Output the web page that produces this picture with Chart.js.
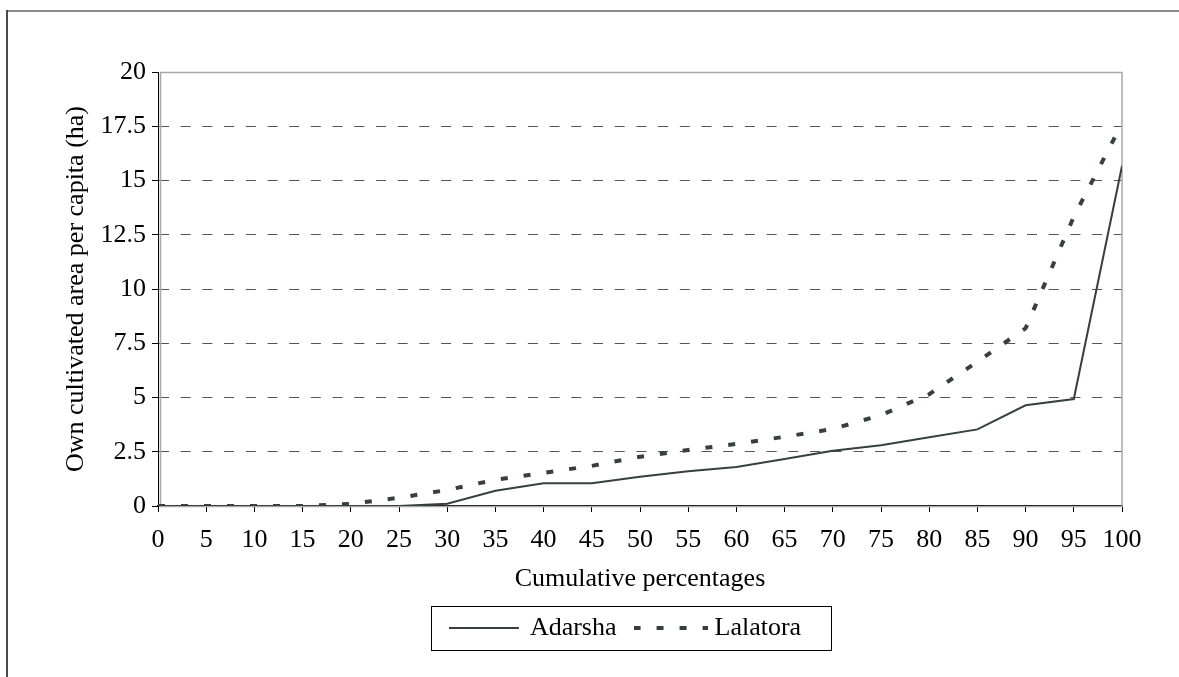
<!DOCTYPE html>
<html>
<head>
<meta charset="utf-8">
<title>Own cultivated area per capita</title>
<script src="https://cdn.jsdelivr.net/npm/chart.js@4.4.1/dist/chart.umd.min.js"></script>
<style>
  html, body { margin: 0; padding: 0; background: #fff; }
  #wrap { position: relative; width: 1179px; height: 677px; }
</style>
</head>
<body>
<div id="wrap"><canvas id="myChart" width="1179" height="677"></canvas></div>
<script>
// cumulative percentages (x) and per-capita area (ha)
var percentages = [0, 5, 10, 15, 20, 25, 30, 35, 40, 45, 50, 55, 60, 65, 70, 75, 80, 85, 90, 95, 100];
var adarsha  = [0, 0, 0, 0, 0, 0, 0.1, 0.7, 1.05, 1.05, 1.35, 1.6, 1.8, 2.17, 2.55, 2.8, 3.17, 3.53, 4.64, 4.93, 15.67];
var lalatora = [0, 0, 0, 0, 0.1, 0.38, 0.74, 1.21, 1.53, 1.85, 2.27, 2.58, 2.86, 3.19, 3.55, 4.19, 5.15, 6.65, 8.19, 13.33, 17.63];
var seriesNames = ['Adarsha', 'Lalatora'];

var FONT = '"Liberation Serif", "Times New Roman", serif';
var LINE_COLOR = '#364040';

function toPoints(values) {
  return percentages.map(function (p, i) { return { x: p, y: values[i] }; });
}

// small canvas with the line sample, used as legend point style
function legendSample(ds) {
  var cv = document.createElement('canvas');
  cv.width = 74;
  cv.height = 8;
  var c = cv.getContext('2d');
  c.strokeStyle = ds.borderColor;
  c.lineWidth = ds.borderWidth;
  c.setLineDash(ds.borderDash || []);
  c.beginPath();
  c.moveTo(0, 4);
  c.lineTo(ds.borderDash ? 74 : 70, 4);
  c.stroke();
  return cv;
}

// outer frame, plot border and the legend box
var framePlugin = {
  id: 'frame',
  afterLayout: function (chart) {
    // nudge legend a bit left, like the original
    chart.legend.left -= 12;
    chart.legend.right -= 12;
  },
  beforeDraw: function (chart) {
    var c = chart.ctx;
    c.save();
    c.fillStyle = '#fff';
    c.fillRect(0, 0, chart.width, chart.height);
    c.lineWidth = 2;
    c.strokeStyle = '#8c8c8c';
    c.beginPath(); c.moveTo(6, 11); c.lineTo(chart.width, 11); c.stroke();
    c.strokeStyle = '#4a4a4a';
    c.beginPath(); c.moveTo(7, 10); c.lineTo(7, chart.height); c.stroke();
    c.restore();
  },
  beforeDatasetsDraw: function (chart) {
    var a = chart.chartArea, c = chart.ctx;
    c.save();
    c.strokeStyle = '#a8a8a8';
    c.lineWidth = 1.5;
    c.strokeRect(a.left + 2.5, a.top + 0.5, a.right - a.left - 2.5, a.bottom - a.top);
    c.restore();
  },
  afterDraw: function (chart) {
    var hb = chart.legend.legendHitBoxes;
    if (!hb || !hb.length) return;
    var first = hb[0], last = hb[hb.length - 1];
    var c = chart.ctx;
    c.save();
    c.strokeStyle = '#000';
    c.lineWidth = 1;
    var l = Math.round(first.left - 24) + 0.5;
    var r = Math.round(last.left + last.width + 30) + 0.5;
    var t = Math.round(first.top - 9) + 0.5;
    c.strokeRect(l, t, r - l, 44);
    c.restore();
  }
};

var ctx = document.getElementById('myChart').getContext('2d');

var chart = new Chart(ctx, {
  type: 'line',
  data: {
    datasets: [{
      label: seriesNames[0],
      data: toPoints(adarsha),
      borderColor: LINE_COLOR,
      backgroundColor: LINE_COLOR,
      borderWidth: 2,
      pointRadius: 0,
      tension: 0,
      fill: false
    }, {
      label: seriesNames[1],
      data: toPoints(lalatora),
      borderColor: LINE_COLOR,
      backgroundColor: LINE_COLOR,
      borderWidth: 4,
      borderDash: [7, 16],
      pointRadius: 0,
      tension: 0,
      fill: false
    }]
  },
  options: {
    responsive: false,
    animation: false,
    devicePixelRatio: 1,
    layout: { padding: { left: 0, right: 57, top: 72, bottom: 26 } },
    plugins: {
      tooltip: { enabled: false },
      legend: {
        position: 'bottom',
        fullSize: false,
        labels: {
          color: '#000',
          font: { family: FONT, size: 26 },
          usePointStyle: true,
          pointStyleWidth: 62,
          padding: 23,
          generateLabels: function (chart) {
            return chart.data.datasets.map(function (ds, i) {
              return {
                text: ds.label,
                pointStyle: legendSample(ds),
                fillStyle: ds.borderColor,
                strokeStyle: ds.borderColor,
                lineWidth: ds.borderWidth,
                fontColor: '#000',
                hidden: false,
                datasetIndex: i
              };
            });
          }
        }
      }
    },
    scales: {
      x: {
        type: 'linear',
        min: 0,
        max: 100,
        afterFit: function (s) { s.height = 86; },
        ticks: {
          stepSize: 5,
          color: '#000',
          padding: 13,
          font: { family: FONT, size: 26 }
        },
        grid: {
          drawOnChartArea: false,
          drawTicks: true,
          tickLength: 6,
          tickColor: '#000',
          tickWidth: 1
        },
        border: { display: true, color: '#000', width: 1.5 },
        title: {
          display: true,
          text: 'Cumulative percentages',
          color: '#000',
          font: { family: FONT, size: 26, lineHeight: 1 },
          padding: { top: 0, bottom: 0 }
        }
      },
      y: {
        min: 0,
        max: 20,
        afterFit: function (s) { s.width = 158; },
        ticks: {
          stepSize: 2.5,
          color: '#000',
          padding: 6,
          font: { family: FONT, size: 26 }
        },
        grid: {
          color: function (c) {
            var v = c.tick ? c.tick.value : null;
            return (v === 0 || v === 20) ? 'rgba(0,0,0,0)' : '#555';
          },
          lineWidth: 1,
          tickLength: 6,
          tickColor: '#000',
          tickWidth: 1
        },
        border: { display: true, color: '#000', width: 1, dash: [10, 11.7] },
        title: {
          display: true,
          text: 'Own cultivated area per capita (ha)',
          color: '#000',
          font: { family: FONT, size: 26 },
          padding: { top: 61, bottom: 0 }
        }
      }
    }
  },
  plugins: [framePlugin]
});
</script>
</body>
</html>
